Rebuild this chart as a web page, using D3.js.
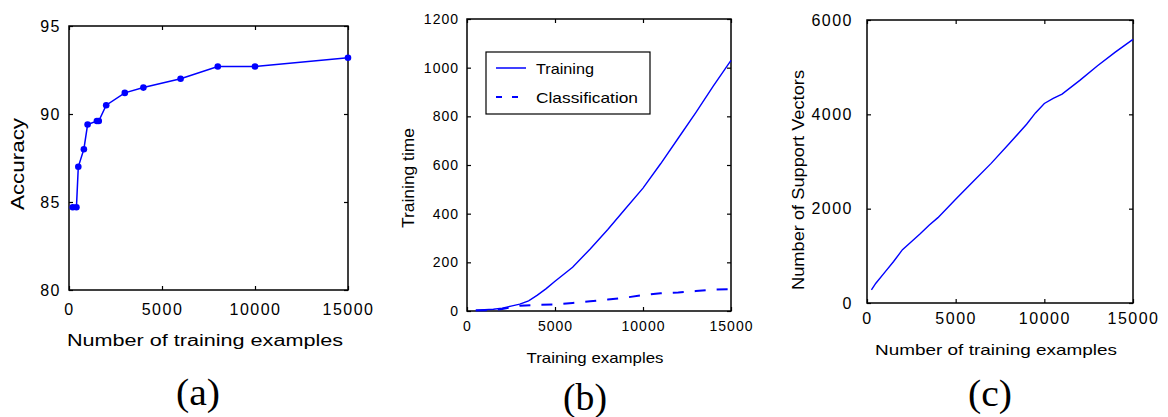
<!DOCTYPE html>
<html>
<head>
<meta charset="utf-8">
<script src="https://cdn.jsdelivr.net/npm/d3@7"></script>
<style>
  body { margin: 0; background: #fff; }
  text { font-family: "Liberation Sans", Arial, sans-serif; fill: #000; }
  .cap { font-family: "Liberation Serif", "Times New Roman", serif; }
</style>
</head>
<body>
<div id="chart"></div>
<script>
// (a) accuracy vs number of training examples
var accX = [200, 400, 500, 800, 1000, 1500, 1600, 2000, 3000, 4000, 6000, 8000, 10000, 15000]
var accY = [84.7, 84.7, 87.0, 88.0, 89.4, 89.6, 89.6, 90.5, 91.2, 91.5, 92.0, 92.7, 92.7, 93.2]

// (b) training / classification time
var timeX = [500, 1000, 1500, 2000, 2500, 3000, 3500, 4000, 4500, 5000, 6000, 7000, 8000, 9000, 10000, 11000, 12000, 13000, 14000, 15000]
var trainTime = [3, 5, 7, 12, 20, 28, 42, 65, 92, 122, 180, 255, 335, 420, 505, 605, 710, 815, 925, 1030]
var classX = [500, 1000, 1500, 2000, 2500, 3000, 4000, 5000, 6000, 7000, 8000, 9000, 10000, 11000, 12000, 13000, 14000, 15000]
var classTime = [2, 3, 4, 8, 15, 22, 25, 27, 33, 40, 47, 55, 65, 73, 76, 82, 88, 90]

// (c) number of support vectors
var svX = [250, 500, 1000, 1500, 2000, 2500, 3000, 3500, 4000, 5000, 6000, 7000, 8000, 9000, 9500, 10000, 10500, 11000, 12000, 13000, 14000, 15000]
var svY = [280, 420, 650, 880, 1130, 1300, 1470, 1650, 1810, 2200, 2580, 2960, 3370, 3790, 4030, 4230, 4340, 4430, 4720, 5030, 5320, 5590]

var xTicks = [0, 5000, 10000, 15000]
var accTicks = [80, 85, 90, 95]
var timeTicks = [0, 200, 400, 600, 800, 1000, 1200]
var svTicks = [0, 2000, 4000, 6000]
var legendLabels = ["Training", "Classification"]

var svg = d3.select("#chart")
  .append("svg")
  .attr("width", 1168)
  .attr("height", 417)

var blue = "#0000ff"

function panel(o) {
  var x = d3.scaleLinear().domain([0, 15000]).range([o.left, o.right])
  var y = d3.scaleLinear().domain(o.yDomain).range([o.bottom, o.top])
  var g = svg.append("g")

  // inward ticks on all four sides, labels only bottom / left
  g.append("g")
    .attr("transform", "translate(0," + o.bottom + ")")
    .call(d3.axisBottom(x).tickValues(xTicks).tickSize(-4).tickPadding(o.xPad).tickFormat(d3.format("d")))
  g.append("g")
    .attr("transform", "translate(0," + o.top + ")")
    .call(d3.axisTop(x).tickValues(xTicks).tickSize(-4).tickFormat(""))
  g.append("g")
    .attr("transform", "translate(" + o.left + ",0)")
    .call(d3.axisLeft(y).tickValues(o.yTicks).tickSize(-4).tickPadding(o.yPad).tickFormat(d3.format("d")))
  g.append("g")
    .attr("transform", "translate(" + o.right + ",0)")
    .call(d3.axisRight(y).tickValues(o.yTicks).tickSize(-4).tickFormat(""))

  g.selectAll(".domain").remove()
  g.selectAll(".tick line").attr("stroke", "#000").attr("stroke-width", 1.2)
  g.selectAll(".tick text")
    .attr("font-size", o.tickFont)
    .style("letter-spacing", o.tickSpacing + "px")
    .style("font-family", "'Liberation Sans', Arial, sans-serif")

  g.append("rect")
    .attr("x", o.left).attr("y", o.top)
    .attr("width", o.right - o.left).attr("height", o.bottom - o.top)
    .attr("fill", "none").attr("stroke", "#000").attr("stroke-width", 1.5)

  // axis labels
  g.append("text")
    .attr("x", o.xLabel[0]).attr("y", o.xLabel[1])
    .attr("text-anchor", "middle").attr("dominant-baseline", "central")
    .attr("font-size", o.labelFont)
    .attr("textLength", o.xLabel[2]).attr("lengthAdjust", "spacingAndGlyphs")
    .text(o.xText)
  g.append("text")
    .attr("transform", "translate(" + o.yLabel[0] + "," + o.yLabel[1] + ") rotate(-90)")
    .attr("text-anchor", "middle").attr("dominant-baseline", "central")
    .attr("font-size", o.yLabelFont || o.labelFont)
    .attr("textLength", o.yLabel[2]).attr("lengthAdjust", "spacingAndGlyphs")
    .text(o.yText)

  g.append("text")
    .attr("class", "cap")
    .attr("x", o.cap[0]).attr("y", o.cap[1])
    .attr("text-anchor", "middle").attr("dominant-baseline", "central")
    .attr("font-size", 37)
    .attr("textLength", 44).attr("lengthAdjust", "spacingAndGlyphs")
    .text(o.capText)

  return { g: g, x: x, y: y }
}

// ---- (a)
var a = panel({
  left: 69, right: 348, top: 26, bottom: 290,
  yDomain: [80, 95], yTicks: accTicks,
  xPad: 14, yPad: 8, tickFont: 16, tickSpacing: 1.5, labelFont: 16,
  xText: "Number of training examples", xLabel: [205, 340, 276],
  yText: "Accuracy", yLabel: [17, 164, 92], yLabelFont: 19,
  capText: "(a)", cap: [198, 392]
})
var accData = accX.map(function(d, i) { return [d, accY[i]] })
var lineA = d3.line().x(d => a.x(d[0])).y(d => a.y(d[1]))
a.g.append("path")
  .datum(accData)
  .attr("d", lineA)
  .attr("fill", "none").attr("stroke", blue).attr("stroke-width", 1.5)
a.g.selectAll("circle")
  .data(accData)
  .enter().append("circle")
  .attr("cx", d => a.x(d[0]))
  .attr("cy", d => a.y(d[1]))
  .attr("r", 3.3)
  .attr("fill", blue)

// ---- (b)
var b = panel({
  left: 467, right: 731, top: 19, bottom: 311,
  yDomain: [0, 1200], yTicks: timeTicks,
  xPad: 10, yPad: 8, tickFont: 14, tickSpacing: 1, labelFont: 15,
  xText: "Training examples", xLabel: [595, 357, 137],
  yText: "Training time", yLabel: [408, 178, 100], yLabelFont: 17,
  capText: "(b)", cap: [585, 397]
})
var lineB = d3.line().x(d => b.x(d[0])).y(d => b.y(d[1]))
b.g.append("path")
  .datum(timeX.map(function(d, i) { return [d, trainTime[i]] }))
  .attr("d", lineB)
  .attr("fill", "none").attr("stroke", blue).attr("stroke-width", 1.4)
b.g.append("path")
  .datum(classX.map(function(d, i) { return [d, classTime[i]] }))
  .attr("d", lineB)
  .attr("fill", "none").attr("stroke", blue).attr("stroke-width", 2)
  .attr("stroke-dasharray", "11,11")

// legend
var leg = b.g.append("g")
leg.append("rect")
  .attr("x", 486).attr("y", 52).attr("width", 164).attr("height", 62)
  .attr("fill", "#fff").attr("stroke", "#000").attr("stroke-width", 1.2)
legendLabels.forEach(function(lbl, i) {
  var yy = 68 + i * 29
  leg.append("line")
    .attr("x1", 496).attr("x2", 526).attr("y1", yy).attr("y2", yy)
    .attr("stroke", blue).attr("stroke-width", i === 1 ? 2 : 1.5)
    .attr("stroke-dasharray", i === 1 ? "6,10" : null)
  leg.append("text")
    .attr("x", 536).attr("y", yy)
    .attr("dominant-baseline", "central")
    .attr("font-size", 15)
    .attr("textLength", i === 1 ? 102 : 58).attr("lengthAdjust", "spacingAndGlyphs")
    .text(lbl)
})

// ---- (c)
var c = panel({
  left: 867, right: 1133, top: 20, bottom: 303,
  yDomain: [0, 6000], yTicks: svTicks,
  xPad: 10, yPad: 14, tickFont: 16, tickSpacing: 1.5, labelFont: 15,
  xText: "Number of training examples", xLabel: [996, 349, 242],
  yText: "Number of Support Vectors", yLabel: [798, 180, 220], yLabelFont: 17,
  capText: "(c)", cap: [990, 393]
})
var lineC = d3.line().x(d => c.x(d[0])).y(d => c.y(d[1]))
c.g.append("path")
  .datum(svX.map(function(d, i) { return [d, svY[i]] }))
  .attr("d", lineC)
  .attr("fill", "none").attr("stroke", blue).attr("stroke-width", 1.4)
</script>
</body>
</html>
